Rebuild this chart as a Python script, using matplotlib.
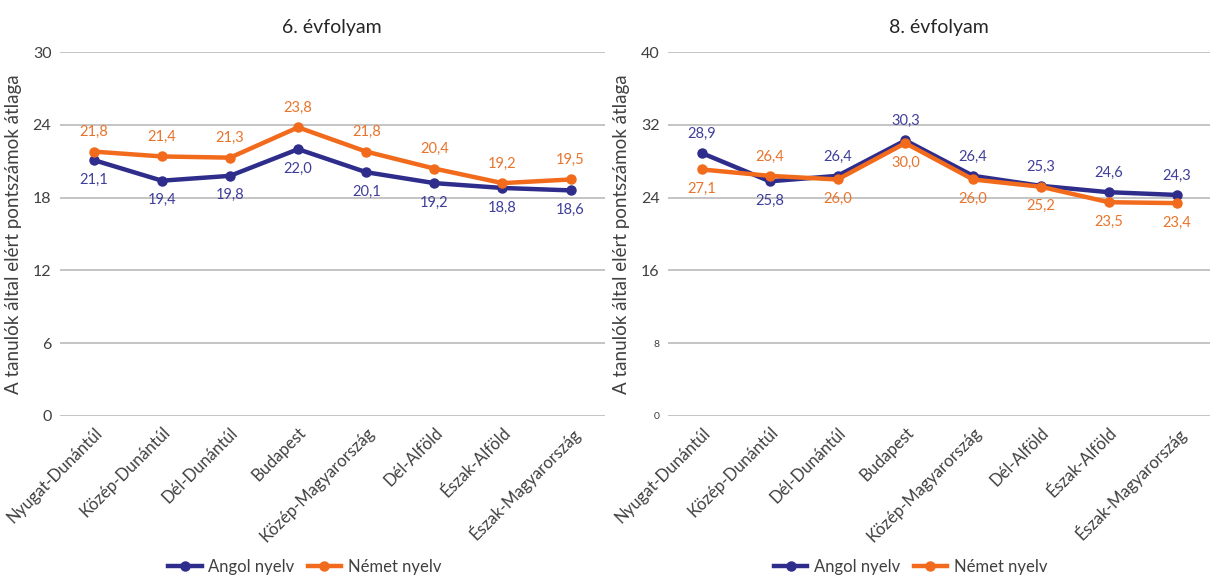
import matplotlib.pyplot as plt

plt.rcParams['font.family'] = ['Lato', 'DejaVu Sans']

regiok = ['Nyugat-Dunántúl', 'Közép-Dunántúl', 'Dél-Dunántúl', 'Budapest',
          'Közép-Magyarország', 'Dél-Alföld', 'Észak-Alföld', 'Észak-Magyarország']

angol_6 = [21.1, 19.4, 19.8, 22.0, 20.1, 19.2, 18.8, 18.6]
nemet_6 = [21.8, 21.4, 21.3, 23.8, 21.8, 20.4, 19.2, 19.5]
angol_8 = [28.9, 25.8, 26.4, 30.3, 26.4, 25.3, 24.6, 24.3]
nemet_8 = [27.1, 26.4, 26.0, 30.0, 26.0, 25.2, 23.5, 23.4]

# label above (+1) or below (-1) the point
angol_6_pos = [-1, -1, -1, -1, -1, -1, -1, -1]
nemet_6_pos = [1, 1, 1, 1, 1, 1, 1, 1]
angol_8_pos = [1, -1, 1, 1, 1, 1, 1, 1]
nemet_8_pos = [-1, 1, -1, -1, -1, -1, -1, -1]

ticks_6 = [0, 6, 12, 18, 24, 30]
ticks_8 = [0, 8, 16, 24, 32, 40]

kek = '#2e2d8c'
narancs = '#f26a1b'
kek_cimke = '#3f3f9a'
narancs_cimke = '#e8742c'
szurke = '#404040'

fig = plt.figure(figsize=(12.19, 5.8), dpi=100)
ax1 = fig.add_axes([0.049, 0.283, 0.447, 0.627])
ax2 = fig.add_axes([0.548, 0.283, 0.445, 0.627])


def rajz(ax, angol, nemet, apos, npos, ticks, cim, kis_tick=None):
    x = list(range(len(regiok)))
    ax.plot(x, angol, color=kek, lw=3.2, marker='o', ms=6.5, label='Angol nyelv', zorder=3)
    ax.plot(x, nemet, color=narancs, lw=3.2, marker='o', ms=6.5, label='Német nyelv', zorder=3)
    for xi, v, p in zip(x, angol, apos):
        ax.annotate(f'{v:.1f}'.replace('.', ','), (xi, v), xytext=(0, 14 * p),
                    textcoords='offset points', ha='center', va='center',
                    color=kek_cimke, fontsize=10.5)
    for xi, v, p in zip(x, nemet, npos):
        ax.annotate(f'{v:.1f}'.replace('.', ','), (xi, v), xytext=(0, 14 * p),
                    textcoords='offset points', ha='center', va='center',
                    color=narancs_cimke, fontsize=10.5)
    ax.set_xlim(-0.5, len(regiok) - 0.5)
    ax.set_ylim(ticks[0], ticks[-1])
    ax.set_yticks(ticks)
    ax.set_yticklabels([str(t) for t in ticks], fontsize=11.5, color=szurke)
    if kis_tick:
        for lab, t in zip(ax.get_yticklabels(), ticks):
            if t in kis_tick:
                lab.set_fontsize(7.5)
    ax.set_xticks(x)
    ax.set_xticklabels(regiok, rotation=45, ha='right', rotation_mode='anchor',
                       fontsize=12, color=szurke)
    ax.grid(axis='y', color='#bfbfbf', lw=1.3)
    ax.set_axisbelow(True)
    for s in ax.spines.values():
        s.set_visible(False)
    ax.tick_params(length=0, pad=6)
    ax.set_ylabel('A tanulók által elért pontszámok átlaga', fontsize=13.5, color=szurke, labelpad=8)
    ax.set_title(cim, fontsize=14, color='#262626', pad=14)


rajz(ax1, angol_6, nemet_6, angol_6_pos, nemet_6_pos, ticks_6, '6. évfolyam')
rajz(ax2, angol_8, nemet_8, angol_8_pos, nemet_8_pos, ticks_8, '8. évfolyam', kis_tick=[0, 8])

for ax, xc in [(ax1, 0.25), (ax2, 0.747)]:
    h, l = ax.get_legend_handles_labels()
    fig.legend(h, l, loc='center', bbox_to_anchor=(xc, 0.022), ncol=2, frameon=False,
               fontsize=12, handlelength=2.0, columnspacing=0.8, handletextpad=0.4,
               labelcolor=szurke)

fig.savefig('out.png', dpi=100)
